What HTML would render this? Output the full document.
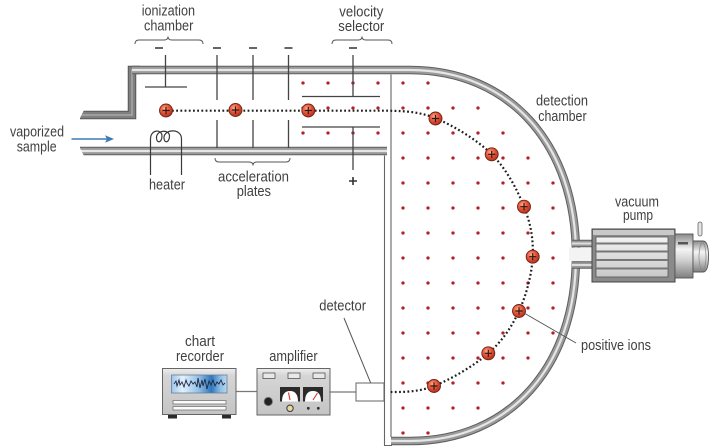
<!DOCTYPE html>
<html><head><meta charset="utf-8"><style>
html,body{margin:0;padding:0;background:#fff;}
svg{display:block;}
text{font-family:"Liberation Sans Narrow","Liberation Sans",sans-serif;font-size:15px;fill:#404040;}
</style></head><body>
<svg width="712" height="446" viewBox="0 0 712 446" xmlns="http://www.w3.org/2000/svg">
<defs>
<radialGradient id="ion" cx="40%" cy="35%" r="65%"><stop offset="0" stop-color="#ffae90"/><stop offset="0.5" stop-color="#e8553a"/><stop offset="1" stop-color="#b3301c"/></radialGradient>
<linearGradient id="scr" x1="0" x2="1" y1="0" y2="0"><stop offset="0" stop-color="#9cc6ea"/><stop offset="0.2" stop-color="#e4f1fb"/><stop offset="0.5" stop-color="#8ebde6"/><stop offset="0.72" stop-color="#2f77bb"/><stop offset="0.88" stop-color="#8ebde6"/><stop offset="1" stop-color="#b9d8f0"/></linearGradient>
<linearGradient id="boxg" x1="0" x2="0" y1="0" y2="1"><stop offset="0" stop-color="#eeeeee"/><stop offset="0.15" stop-color="#d6d6d6"/><stop offset="1" stop-color="#c4c4c4"/></linearGradient>
<linearGradient id="panel" x1="0" x2="0" y1="0" y2="1"><stop offset="0" stop-color="#f2f2f2"/><stop offset="1" stop-color="#c8c8c8"/></linearGradient>
<linearGradient id="cyl" x1="0" x2="0" y1="0" y2="1"><stop offset="0" stop-color="#8a8a8a"/><stop offset="0.35" stop-color="#f4f4f4"/><stop offset="0.6" stop-color="#d0d0d0"/><stop offset="1" stop-color="#7e7e7e"/></linearGradient>
<path id="walls" fill="none" d="M132,70 H410 C509.6,70 576,144.2 576,255.5 C576,366.8 509.6,441 410,441 H391 M80,151 H387"/>
<path id="step" fill="none" d="M80,115 H132 V70 H140"/>
<path id="neck" fill="none" d="M572,243.5 H593 M572,265 H593"/>
<g id="ionG"><circle r="6.5" fill="url(#ion)" stroke="#6d2414" stroke-width="0.9"/><path d="M-3.6,0H3.6M0,-3.6V3.6" stroke="#2a1a14" stroke-width="1.2"/></g>
</defs>

<!-- walls -->
<g stroke-linejoin="miter">
<use href="#step" stroke="#555" stroke-width="8.5"/>
<use href="#step" stroke="#808080" stroke-width="6.5"/>
<use href="#step" stroke="#a8a8a8" stroke-width="1.5"/>
<use href="#walls" stroke="#5e5e5e" stroke-width="8.5"/>
<use href="#walls" stroke="#9a9a9a" stroke-width="6.5"/>
<use href="#walls" stroke="#e6e6e6" stroke-width="2.2"/>
</g>
<!-- slanted left ends cleanup -->
<polygon points="75,110 84,110 79,120 75,120" fill="#fff"/>
<polygon points="75,146 79,146 84,156 75,156" fill="#fff"/>
<!-- neck opening -->
<rect x="569" y="247.6" width="24" height="13.8" fill="#f3f3f3"/>
<use href="#neck" stroke="#5e5e5e" stroke-width="7.5"/>
<use href="#neck" stroke="#9a9a9a" stroke-width="5.5"/>
<use href="#neck" stroke="#dedede" stroke-width="2"/>

<!-- chamber left wall double lines -->
<path d="M384.5,155.5 V445.5 H392 M391,74.5 V437" fill="none" stroke="#666" stroke-width="1.1"/>

<!-- red field dots -->
<path stroke="#b3202a" stroke-width="3.3" stroke-linecap="round" fill="none" d="
M303,83h0M328,83h0M353,83h0M378,83h0
M303,108h0M328,108h0M353,108h0M378,108h0
M303,133h0M328,133h0M353,133h0M378,133h0
M403,83h0M428,83h0
M403,108h0M428,108h0M453,108h0M478,108h0
M403,133h0M428,133h0M453,133h0M478,133h0M503,133h0
M403,158h0M428,158h0M453,158h0M478,158h0M503,158h0M528,158h0
M403,183h0M428,183h0M453,183h0M478,183h0M503,183h0M528,183h0M553,183h0
M403,208h0M428,208h0M453,208h0M478,208h0M503,208h0M528,208h0M553,208h0
M403,233h0M428,233h0M453,233h0M478,233h0M503,233h0M528,233h0M553,233h0
M403,258h0M428,258h0M453,258h0M478,258h0M503,258h0M528,258h0M553,258h0
M403,283h0M428,283h0M453,283h0M478,283h0M503,283h0M528,283h0M553,283h0
M403,308h0M428,308h0M453,308h0M478,308h0M503,308h0M528,308h0M553,308h0
M403,333h0M428,333h0M453,333h0M478,333h0M503,333h0M528,333h0M553,333h0
M403,358h0M428,358h0M453,358h0M478,358h0M503,358h0M528,358h0
M403,383h0M428,383h0M453,383h0M478,383h0M503,383h0
M403,408h0M428,408h0M453,408h0M478,408h0
M403,433h0M428,433h0"/>

<!-- plates / electrodes -->
<g stroke="#444" stroke-width="1.3" fill="none">
<path d="M165.5,55 V87 M145,87 H187"/>
<path d="M217,55 V100 M217,120 V148"/>
<path d="M253,55 V100 M253,120 V148"/>
<path d="M288.5,55 V100 M288.5,120 V148"/>
<path d="M353,55 V96 M302,96.5 H380 M302,127 H380 M353,127 V170"/>
</g>
<g stroke="#333" stroke-width="1.6">
<path d="M155,48 H163 M213,48 H221 M249,48 H257 M284.5,48 H292.5 M349,48 H357"/>
<path d="M349,181 H357 M353,177 V185"/>
</g>

<!-- braces -->
<g stroke="#555" stroke-width="1" fill="none">
<path d="M135,44 Q135,40 139,40 H164 Q168,40 168,36.5 Q168,40 172,40 H199 Q203,40 203,44"/>
<path d="M332,44 Q332,40 336,40 H358 Q362,40 362,36.5 Q362,40 366,40 H388 Q392,40 392,44"/>
<path d="M215,158 Q215,162 219,162 H249 Q253,162 253,165.5 Q253,162 257,162 H286 Q290,162 290,158"/>
</g>

<!-- heater -->
<path fill="none" stroke="#3a3a3a" stroke-width="1.2" d="M150.5,175 V139 C150.5,129 162,129 162,136 C162,143.5 156,143.5 156.5,137 C157.5,129.5 169.5,129.5 169.5,136 C169.5,143.5 163.5,143.5 164,137 C165,129 181.5,128 181.5,139 V175"/>

<!-- arrow -->
<path d="M71.5,139 H107" stroke="#3b7bb5" stroke-width="1.6"/>
<polygon points="114,139 105,135.2 107,139 105,142.8" fill="#3b7bb5"/>

<!-- ion path -->
<path fill="none" stroke="#1e1e1e" stroke-width="2.2" stroke-dasharray="1.8 2.4" d="M172,110.7 H388 C400,111 418,111 435,118 C452,125 477,139.5 491.7,154.3 C506.5,169 517.2,189.6 524,206.7 C530.8,223.8 533.5,239.3 532.7,256.7 C531.9,274 526.4,294.9 519,311 C511.6,327.1 502.5,340.8 488.3,353.3 C474.1,365.8 450.4,379.6 434,386 C417.6,392.4 402.3,392 390,392"/>

<!-- ions -->
<use href="#ionG" x="166" y="110.5"/>
<use href="#ionG" x="235.5" y="110"/>
<use href="#ionG" x="308.3" y="110.5"/>
<use href="#ionG" x="435.5" y="118.5"/>
<use href="#ionG" x="491.7" y="154.3"/>
<use href="#ionG" x="524" y="206.7"/>
<use href="#ionG" x="532.7" y="256.7"/>
<use href="#ionG" x="519" y="311"/>
<use href="#ionG" x="488.3" y="353.3"/>
<use href="#ionG" x="434" y="386"/>

<!-- leaders -->
<path d="M524,313 L576,343 M344,318 L374,391" stroke="#555" stroke-width="1" fill="none"/>

<!-- pump -->
<rect x="592" y="229" width="83" height="53" fill="#8a8a8a" stroke="#444" stroke-width="1"/>
<rect x="593" y="230" width="81" height="5" fill="#c8c8c8"/>
<rect x="596" y="237" width="72" height="40" fill="url(#panel)" stroke="#555" stroke-width="0.8"/>
<path d="M596,243.5 H668 M596,251.5 H668 M596,260 H668 M596,268.5 H668" stroke="#777" stroke-width="2"/>
<rect x="675" y="234" width="18" height="44" fill="url(#cyl)" stroke="#555" stroke-width="0.9"/>
<rect x="678" y="242" width="10" height="2.5" fill="#555"/>
<path d="M693,241 H703 Q708.5,241 708.5,256.5 Q708.5,272 703,272 H693 Z" fill="url(#cyl)" stroke="#555" stroke-width="0.9"/>
<ellipse cx="702.5" cy="256.5" rx="3.5" ry="13.5" fill="none" stroke="#888" stroke-width="0.7"/>
<rect x="698" y="222" width="4" height="14" rx="2" fill="#e4e4e4" stroke="#666" stroke-width="0.8"/>

<!-- connectors bottom -->
<path d="M236,391.5 H257 M330,392 H356" stroke="#777" stroke-width="1.2"/>

<!-- detector -->
<rect x="356" y="383" width="28" height="18" fill="#fff" stroke="#666" stroke-width="1"/>

<!-- chart recorder -->
<rect x="168" y="414" width="9" height="4.5" fill="#2a2a2a"/>
<rect x="222" y="414" width="9" height="4.5" fill="#2a2a2a"/>
<rect x="162.5" y="368.5" width="73.5" height="46" fill="url(#boxg)" stroke="#666" stroke-width="1"/>
<rect x="171.5" y="375" width="55.5" height="18" fill="url(#scr)" stroke="#6a7f95" stroke-width="0.8"/>
<polyline fill="none" stroke="#1d2a44" stroke-width="0.9" points="174,384 176,381 177,386 179,380 180,385 182,382 184,387 186,380 187,383 189,386 191,381 193,384 195,382 197,387 198,378 200,388 202,380 203,386 205,379 207,389 209,381 211,385 213,380 215,386 217,382 219,384 221,380 223,385 225,383"/>
<rect x="173" y="400.5" width="53" height="3.5" fill="#fafafa" stroke="#777" stroke-width="0.8"/>
<rect x="173" y="406.5" width="53" height="3.5" fill="#fafafa" stroke="#777" stroke-width="0.8"/>

<!-- amplifier -->
<rect x="257" y="368.5" width="73" height="46.5" fill="url(#boxg)" stroke="#666" stroke-width="1"/>
<rect x="263" y="373" width="12" height="5.5" fill="#e8e8e8" stroke="#555" stroke-width="0.8"/>
<rect x="288" y="373" width="12" height="5.5" fill="#e8e8e8" stroke="#555" stroke-width="0.8"/>
<rect x="313" y="373" width="12" height="5.5" fill="#e8e8e8" stroke="#555" stroke-width="0.8"/>
<rect x="280" y="387" width="20" height="14.5" fill="#2b2b2b"/>
<rect x="303" y="387" width="20" height="14.5" fill="#2b2b2b"/>
<path d="M282,401.5 Q282,391 290,391 Q298,391 298,401.5 Z" fill="#fff"/>
<path d="M305,401.5 Q305,391 313,391 Q321,391 321,401.5 Z" fill="#fff"/>
<path d="M290,400 L288.5,392.5 M313,400 L317.5,393" stroke="#e0302a" stroke-width="1.1"/>
<circle cx="268.3" cy="401.5" r="4.2" fill="#222" stroke="#777" stroke-width="0.8"/>
<circle cx="290" cy="408.3" r="3.2" fill="#e8d9a0" stroke="#444" stroke-width="1.1"/>
<circle cx="308.3" cy="408.3" r="1.4" fill="#333"/>
<circle cx="318.3" cy="408.3" r="1.4" fill="#333"/>

<!-- labels -->
<text x="141.7" y="15.7" textLength="53.3" lengthAdjust="spacingAndGlyphs">ionization</text>
<text x="144" y="30.7" textLength="49.3" lengthAdjust="spacingAndGlyphs">chamber</text>
<text x="339.3" y="16.7" textLength="44" lengthAdjust="spacingAndGlyphs">velocity</text>
<text x="338.3" y="31" textLength="46" lengthAdjust="spacingAndGlyphs">selector</text>
<text x="218" y="181.5" textLength="71" lengthAdjust="spacingAndGlyphs">acceleration</text>
<text x="236.7" y="196" textLength="34.3" lengthAdjust="spacingAndGlyphs">plates</text>
<text x="149" y="189.3" textLength="36" lengthAdjust="spacingAndGlyphs">heater</text>
<text x="10" y="136.5" textLength="54" lengthAdjust="spacingAndGlyphs">vaporized</text>
<text x="16.7" y="151.5" textLength="40" lengthAdjust="spacingAndGlyphs">sample</text>
<text x="536" y="105.7" textLength="52" lengthAdjust="spacingAndGlyphs">detection</text>
<text x="538.3" y="121" textLength="48.3" lengthAdjust="spacingAndGlyphs">chamber</text>
<text x="615" y="206.7" textLength="44" lengthAdjust="spacingAndGlyphs">vacuum</text>
<text x="623" y="220" textLength="30" lengthAdjust="spacingAndGlyphs">pump</text>
<text x="319.3" y="310.7" textLength="46.7" lengthAdjust="spacingAndGlyphs">detector</text>
<text x="185" y="346" textLength="30" lengthAdjust="spacingAndGlyphs">chart</text>
<text x="176" y="361" textLength="48" lengthAdjust="spacingAndGlyphs">recorder</text>
<text x="269.3" y="361" textLength="48.3" lengthAdjust="spacingAndGlyphs">amplifier</text>
<text x="581" y="350" textLength="70" lengthAdjust="spacingAndGlyphs">positive ions</text>
</svg>
</body></html>
